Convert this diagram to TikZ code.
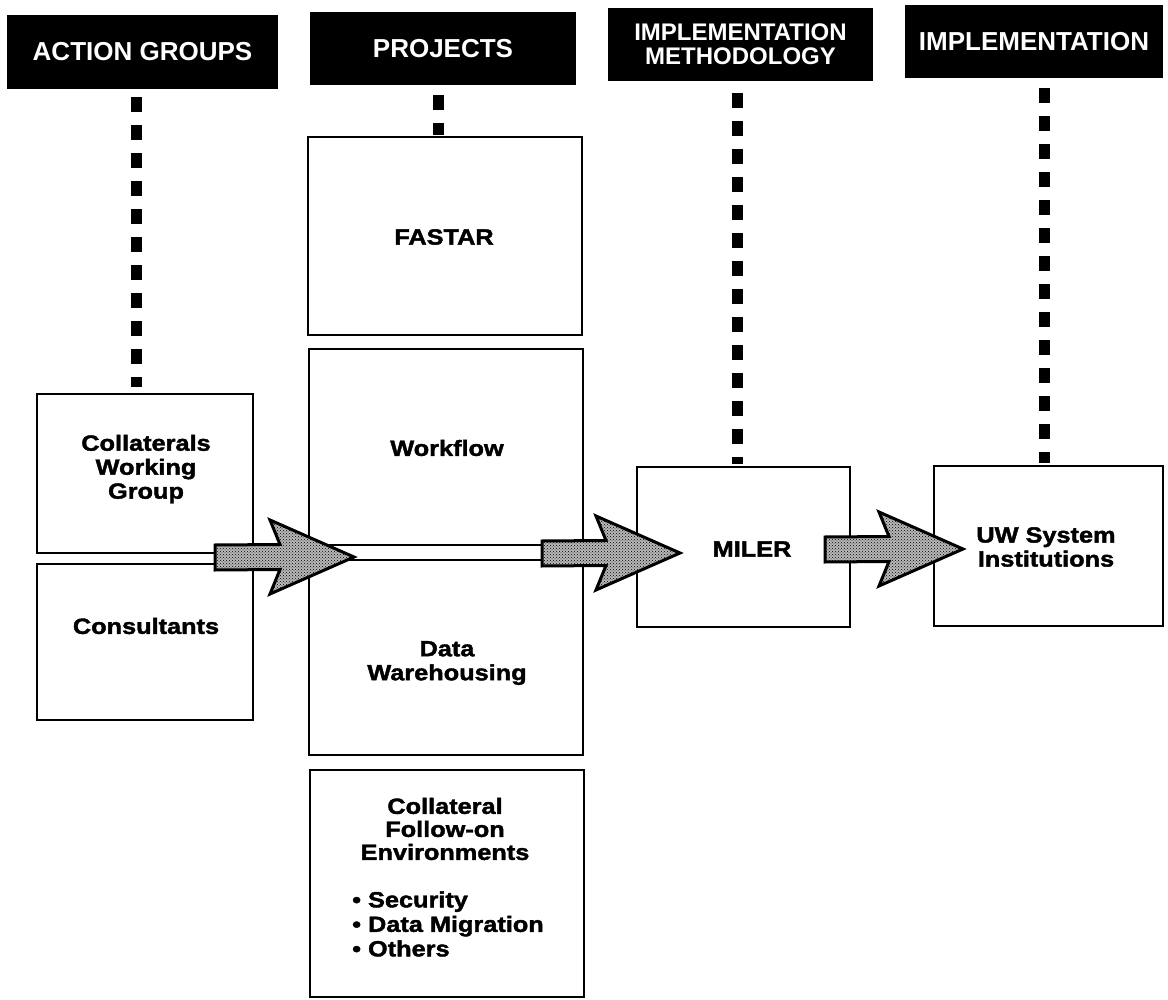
\documentclass[tikz,border=0pt]{standalone}
\usepackage{fontspec}
\setmainfont{Liberation Sans}
\newfontfamily\hdrfont{Liberation Sans}
\newfontfamily\boxfont[FakeStretch=1.15,BoldFeatures={FakeBold=1.8}]{Liberation Sans}
\usetikzlibrary{calc,patterns}

\tikzset{
  hdr/.style={fill=black, text=white, align=center, inner sep=0pt,
    font=\hdrfont\bfseries\fontsize{26}{28}\selectfont},
  frame/.style={draw, line width=2.5pt, fill=white, inner sep=0pt},
  lbl/.style={align=center, inner sep=0pt,
    font=\boxfont\bfseries\fontsize{22}{24}\selectfont},
  dotcol/.style={line width=11pt, dash pattern=on 15pt off 13pt},
  fat/.style={draw, line width=3pt, preaction={fill=black!28},
    pattern=crosshatch dots, pattern color=black, line join=miter},
  bar/.style={draw, line width=2.5pt, fill=white}
}

% wide notched block arrow from a tail point to a tip point
\newcommand\fatarrow[2]{%
  \draw[fat] ($(#1)+(0,-12.5)$) -- ($(#2)+(-74,-12.5)$) -- ($(#2)+(-84,-37)$)
    -- (#2) -- ($(#2)+(-84,37)$) -- ($(#2)+(-74,12.5)$) -- ($(#1)+(0,12.5)$) -- cycle;}

\begin{document}
\begin{tikzpicture}[x=1pt, y=-1pt]
\useasboundingbox (0,0) rectangle (1168,1000);

% column headers
\node[hdr, minimum width=271pt, minimum height=74pt] (hAG) at (142.5,52) {ACTION GROUPS};
\node[hdr, minimum width=266pt, minimum height=73pt] (hPR) at (443,48.5) {PROJECTS};
\node[hdr, minimum width=265pt, minimum height=73pt,
      font=\hdrfont\bfseries\fontsize{24}{24}\selectfont] (hIM) at (740.5,44.5) {IMPLEMENTATION\\METHODOLOGY};
\node[hdr, minimum width=258pt, minimum height=73pt] (hIMP) at (1034,41.5) {IMPLEMENTATION};

% boxes
\node[frame, minimum width=216pt, minimum height=159pt] (cwg) at (145,473.5) {};
\node[frame, minimum width=216pt, minimum height=156pt] (cons) at (145,642) {};
\node[frame, minimum width=274pt, minimum height=198pt] (fastar) at (445,236) {};
\node[frame, minimum width=274pt, minimum height=406pt] (wfdw) at (446,552) {};
\node[frame, minimum width=274pt, minimum height=227pt] (coll) at (447,883.5) {};
\node[frame, minimum width=213pt, minimum height=160pt] (miler) at (743.5,547) {};
\node[frame, minimum width=229pt, minimum height=160pt] (uw) at (1048.5,546) {};

% box texts
\node[lbl] (tcwg) at (146,469) {Collaterals\\Working\\Group};
\node[lbl] (tcons) at (146,626) {Consultants};
\node[lbl] (tfastar) at (444,237) {FASTAR};
\node[lbl] (twf) at (447,448) {Workflow};
\node[lbl] (tdw) at (447,663) {Data\\Warehousing};
\node[lbl, font=\boxfont\bfseries\fontsize{22}{23}\selectfont] (tcoll) at (445,829) {Collateral\\Follow-on\\Environments};
\node[lbl, align=left, anchor=west, font=\boxfont\bfseries\fontsize{22}{24.5}\selectfont]
  (tlist) at (352,924) {• Security\\• Data Migration\\• Others};
\node[lbl] (tmiler) at (752,549) {MILER};
\node[lbl] (tuw) at (1046,547) {UW System\\Institutions};

% dotted links from headers down to the columns
\draw[dotcol] ($(hAG.south)+(-6,8)$) -- ($(cwg.north)+(-8.5,-6)$);
\draw[dotcol] ($(hPR.south)+(-4.5,10)$) -- ($(fastar.north)+(-6.5,-1)$);
\draw[dotcol] ($(hIM.south)+(-3.5,12)$) -- ($(miler.north)+(-6.5,-2)$);
\draw[dotcol] ($(hIMP.south)+(10,10)$) -- ($(uw.north)+(-4.5,-2)$);

% arrow tails and tips
\coordinate (a1tail) at (215,557.5);
\coordinate (a1tip)  at (354,557);
\coordinate (a2tail) at (542,553.5);
\coordinate (a2tip)  at (680,553);
\coordinate (a3tail) at (825,549.5);
\coordinate (a3tip)  at (963,549);

% hollow bar joining the first two arrows
\draw[bar] ($(a1tip)+(-30,-12)$) rectangle ($(a2tail)+(3,6.5)$);

\fatarrow{a1tail}{a1tip}
\fatarrow{a2tail}{a2tip}
\fatarrow{a3tail}{a3tip}
\end{tikzpicture}
\end{document}
